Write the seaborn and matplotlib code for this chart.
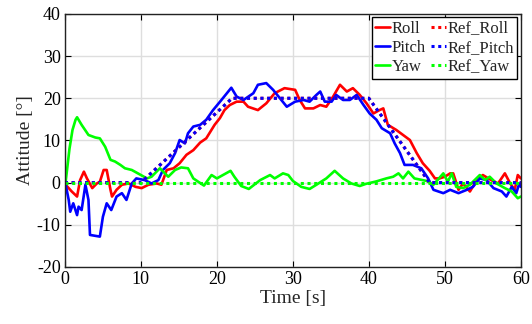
import numpy as np
import pandas as pd
import seaborn as sns
import matplotlib.pyplot as plt

roll_t = [0.1, 0.9, 1.6, 2.0, 2.5, 2.9, 3.6, 4.2, 4.6, 5.1, 5.5, 6.0, 6.2, 6.8, 7.5, 8.4, 9.3, 10.1, 11.0,
          12.1, 12.7, 13.4, 14.3, 15.1, 16.0, 16.9, 17.8, 18.6, 19.7, 20.4, 21.0, 21.7, 22.6, 23.5, 24.1,
          25.4, 26.5, 27.6, 28.9, 30.3, 30.9, 31.6, 32.7, 33.6, 34.4, 35.3, 36.2, 37.1, 37.9, 38.8, 39.7,
          40.6, 41.4, 41.9, 42.5, 43.6, 44.5, 45.4, 46.3, 47.1, 48.0, 48.7, 49.3, 50.0, 50.7, 51.1, 51.8,
          52.4, 53.3, 54.2, 55.0, 56.1, 57.0, 57.9, 58.6, 59.2, 59.6, 60.0]
roll = [-0.5, -2.1, -3.3, 0.6, 2.6, 1.0, -1.3, -0.2, 0.2, 3.0, 3.0, -1.7, -3.3, -1.7, -0.5, -0.2, -1.0, -1.3, -0.5,
        -0.2, -0.5, 3.0, 3.4, 4.6, 6.6, 7.7, 9.5, 10.5, 13.7, 15.3, 17.2, 18.4, 19.2, 19.2, 18.0,
        17.2, 18.8, 21.2, 22.4, 22.0, 19.6, 17.6, 17.6, 18.4, 18.0, 20.4, 23.2, 21.6, 22.4, 20.8, 18.8,
        16.4, 17.2, 17.6, 13.7, 12.5, 11.3, 10.1, 7.0, 4.6, 2.8, 1.0, 1.0, 1.4, 2.2, 2.2, -1.7,
        -0.2, -2.1, 0.6, 1.8, 0.6, -0.2, 2.2, -0.2, -1.7, 1.8, 1.0]

pitch_t = [0.1, 0.5, 0.7, 1.1, 1.6, 1.8, 2.2, 2.7, 3.1, 3.3, 4.6, 5.0, 5.5, 6.1, 6.8, 7.5, 8.1, 8.8, 9.4,
           10.5, 11.4, 12.3, 12.9, 13.8, 14.5, 15.1, 15.8, 16.2, 16.9, 17.8, 18.6, 19.5, 20.6, 21.9, 22.6,
           23.5, 24.8, 25.4, 26.5, 27.4, 28.3, 29.2, 30.3, 31.4, 32.2, 33.1, 33.6, 34.2, 35.1, 35.7, 36.6,
           37.5, 38.4, 39.3, 40.1, 41.0, 41.7, 42.8, 43.4, 44.1, 44.7, 45.8, 46.9, 47.8, 48.5, 49.8, 50.7,
           51.8, 52.9, 53.7, 54.6, 55.5, 56.4, 57.5, 58.1, 58.8, 59.4, 59.8, 60.0]
pitch = [-0.5, -4.1, -6.9, -4.9, -7.7, -5.7, -6.5, -0.5, -4.1, -12.4, -12.8, -8.1, -4.9, -6.5, -3.3, -2.5, -4.1, -0.2, 1.0,
         0.6, -0.2, 0.6, 3.0, 4.6, 7.0, 10.1, 9.3, 11.7, 13.3, 13.7, 14.9, 17.2, 19.6, 22.5, 20.4,
         19.6, 21.2, 23.2, 23.6, 22.0, 20.0, 18.0, 19.2, 19.6, 19.2, 20.8, 21.6, 19.2, 19.2, 20.8, 19.6,
         19.6, 20.8, 18.4, 16.4, 14.9, 12.9, 11.7, 9.3, 7.0, 4.2, 4.2, 3.4, 1.0, -1.7, -2.5, -1.7,
         -2.5, -1.7, -1.0, 1.0, 0.6, -1.3, -2.1, -3.3, -1.0, -2.5, -0.2, -1.0]

yaw_t = [0.1, 0.6, 1.0, 1.4, 1.6, 2.2, 3.1, 4.0, 4.6, 5.3, 6.0, 6.6, 7.3, 7.9, 8.8, 9.7, 10.8, 11.4, 12.5,
         13.6, 14.5, 15.3, 16.2, 16.9, 18.3, 19.3, 20.0, 21.8, 22.3, 23.2, 24.2, 25.7, 27.0, 27.6, 28.7,
         29.4, 30.0, 31.1, 32.2, 33.1, 34.4, 35.5, 36.6, 37.7, 38.8, 39.6, 41.0, 42.3, 43.2, 43.9, 44.5,
         45.2, 46.0, 47.6, 48.5, 49.8, 50.4, 50.9, 51.5, 52.4, 53.3, 54.6, 55.3, 55.9, 56.8, 57.9, 58.8,
         59.6, 60.0]
yaw = [0.2, 8.0, 12.5, 14.9, 15.5, 13.7, 11.3, 10.7, 10.5, 8.5, 5.4, 5.0, 4.2, 3.4, 3.0, 2.1, 1.0, 1.4, 3.4,
       1.4, 3.0, 3.6, 3.4, 1.0, -0.7, 1.8, 1.0, 2.8, 1.4, -0.8, -1.5, 0.6, 1.8, 1.0, 2.2,
       1.8, 0.4, -1.0, -1.5, -0.5, 1.0, 2.8, 1.0, -0.2, -0.8, -0.3, 0.3, 1.0, 1.4, 2.2, 1.0,
       2.6, 1.0, 0.4, -0.5, 2.2, 0.2, 2.2, -1.0, -1.3, -0.5, 1.8, 0.6, 1.4, -0.2, -1.3, -2.1,
       -3.7, -3.3]

# reference trajectories
ref_t = [0, 10, 22, 40, 48, 60]
ref_roll = [0, 0, 20, 20, 0, 0]
ref_pitch = [0, 0, 20, 20, 0, 0]
ref_yaw = [0, 0, 0, 0, 0, 0]

sns.set_style('whitegrid')
plt.rcParams['font.family'] = ['Liberation Serif', 'DejaVu Serif']
plt.rcParams['axes.unicode_minus'] = False

fig = plt.figure(figsize=(5.32, 3.24), dpi=100)
ax = fig.add_axes([0.122, 0.176, 0.857, 0.781])

series = [('Roll', roll_t, roll, 'red'),
          ('Pitch', pitch_t, pitch, 'blue'),
          ('Yaw', yaw_t, yaw, 'lime')]
for name, t, v, c in series:
    sns.lineplot(x=t, y=v, ax=ax, color=c, lw=1.9, label=name, estimator=None, sort=False)

refs = [('Ref_Roll', ref_roll, 'red'),
        ('Ref_Pitch', ref_pitch, 'blue'),
        ('Ref_Yaw', ref_yaw, 'lime')]
for name, v, c in refs:
    sns.lineplot(x=ref_t, y=v, ax=ax, color=c, lw=2.2, label=name, estimator=None,
                 linestyle=(0, (1, 1.2)))

ax.set_xlim(0, 60)
ax.set_ylim(-20, 40)
ax.set_xticks(np.arange(0, 61, 10))
ax.set_yticks(np.arange(-20, 41, 10))
ax.tick_params(direction='in', length=4, labelsize=13, top=True, right=True,
               bottom=True, left=True, colors='black', pad=3)
ax.grid(True, color='#dedede', lw=1)
for s in ax.spines.values():
    s.set_color('#222222')
    s.set_linewidth(1)

ax.set_xlabel('Time [s]', fontsize=14, labelpad=1)
ax.set_ylabel('Attitude [°]', fontsize=14, labelpad=2)

leg = ax.legend(ncol=2, loc='upper right', fontsize=12, handlelength=0.9, handletextpad=0.1,
                columnspacing=0.3, labelspacing=0.2, borderpad=0.2, borderaxespad=0.2,
                fancybox=False, framealpha=1, edgecolor='black')
leg.get_frame().set_linewidth(1)

plt.savefig('out.png', dpi=100)
